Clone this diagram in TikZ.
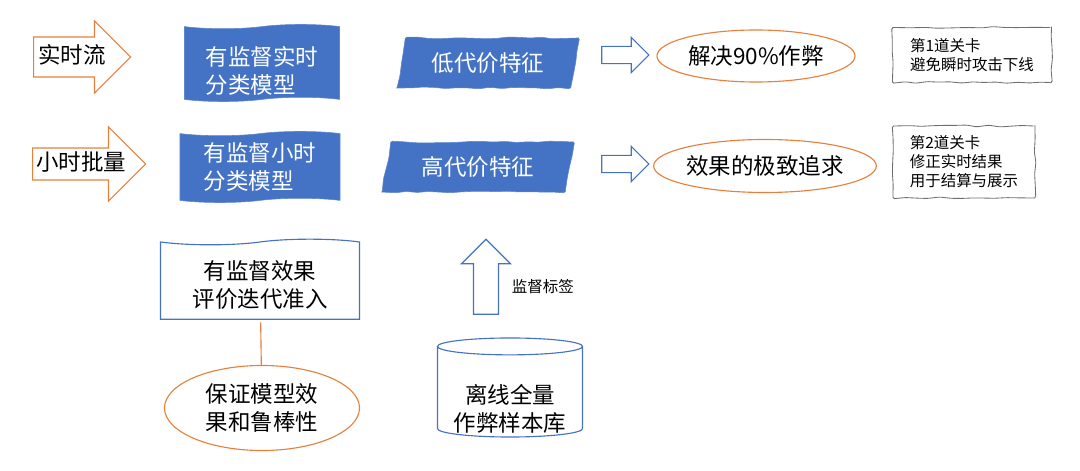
\documentclass[tikz,border=0pt]{standalone}
\usepackage{fontspec}
\setmainfont{Noto Sans CJK SC}
\usepackage{xcolor}
\usetikzlibrary{shapes.arrows,shapes.geometric,shapes.symbols,decorations.pathmorphing}
\definecolor{bleu}{RGB}{68,114,196}
\definecolor{orangeb}{RGB}{230,128,60}
\definecolor{gris}{RGB}{110,110,110}
\newcommand{\grand}{\fontsize{16}{20}\selectfont}
\newcommand{\petit}{\fontsize{11}{13.5}\selectfont}
% texte descendu dans son cadre
\newcommand{\abaisse}[3]{\raisebox{-#2}[\height][\depth]{\begin{tabular}{@{}#1@{}}#3\end{tabular}}}

\begin{document}
\begin{tikzpicture}[x=0.025cm, y=-0.025cm, font=\grand,
    croquis/.style={decorate, decoration={random steps, segment length=8pt, amplitude=0.7pt}, rounded corners=1pt},
    entree/.style={single arrow, draw=orangeb, line width=0.8pt, text height=11pt, text depth=2pt, inner xsep=-5pt, anchor=tail},
    creuse/.style={single arrow, draw=bleu, line width=0.8pt, inner sep=5.7pt, single arrow head extend=6.4pt, minimum height=1.175cm},
    modele/.style={tape, tape bend top=in and out, tape bend bottom=in and out, tape bend height=3pt, fill=bleu, draw=bleu!85!white, text=white, align=left, inner sep=0pt},
    cout/.style={trapezium, trapezium left angle=75, trapezium right angle=105, trapezium stretches=true, croquis, fill=bleu, draw=bleu!85!white, text=white, inner sep=0pt, minimum height=1.25cm},
    bulle/.style={ellipse, draw=orangeb, line width=0.8pt, inner sep=0pt, align=center},
    note/.style={croquis, draw=gris, line width=0.6pt, align=left, font=\petit, inner sep=0pt}]
                \useasboundingbox (0,0) rectangle (1080,471);

                % flux d'entrée
                \node[entree, minimum height=2.425cm, inner ysep=7.35pt, single arrow head extend=11.4pt] (flux) at (33,57) {实时流};
                \node[entree, minimum height=2.825cm, inner ysep=4.5pt, single arrow head extend=15pt] (lot) at (32,164) {小时批量};

                % modèles
                \node[modele, minimum width=3.875cm, minimum height=1.925cm] (reel) at (262,63) {\abaisse{l}{8pt}{有监督实时\\分类模型}};
                \node[modele, minimum width=4cm, minimum height=1.775cm] (horaire) at (260,167) {有监督小时\\分类模型};

                % caractéristiques
                \node[cout, minimum width=4.575cm] (bas) at (488,63) {低代价特征};
                \node[cout, minimum width=4.825cm] (haut) at (478,167) {高代价特征};

                % flèches creuses
                \node[creuse] (f1) at (621,55) {};
                \node[creuse] (f2) at (621,164) {};

                % objectifs
                \node[bulle, minimum width=4.95cm, minimum height=1.3cm] (triche) at (756,56) {解决90\%作弊};
                \node[bulle, minimum width=5.4cm, minimum height=1.325cm] (effet) at (765,166) {效果的极致追求};

                % barrières
                \node[note, minimum width=3.975cm, minimum height=1.375cm] (porte1) at (972,55) {第1道关卡\\避免瞬时攻击下线};
                \node[note, minimum width=3.55cm, minimum height=1.8cm] (porte2) at (964,162) {第2道关卡\\修正实时结果\\用于结算与展示};

                % évaluation
                \node[tape, tape bend top=in and out, tape bend bottom=none, tape bend height=4pt, draw=bleu, line width=0.8pt, minimum width=4.975cm, minimum height=2cm, inner sep=0pt] (eval) at (260,282) {\abaisse{c}{4pt}{有监督效果\\评价迭代准入}};
                \node[bulle, minimum width=4.875cm, minimum height=2.125cm] (robuste) at (262,408) {保证模型效\\果和鲁棒性};
                \draw[orangeb, line width=0.8pt] (eval) -- (robuste);

                % base d'échantillons
                \node[cylinder, shape border rotate=90, aspect=0.15, draw=bleu, line width=0.8pt, minimum width=3.625cm, minimum height=2.475cm, inner sep=0pt] (base) at (510,392) {\abaisse{c}{14pt}{离线全量\\作弊样本库}};
                \node[creuse, shape border rotate=90, inner sep=8.5pt, single arrow head extend=8.5pt, minimum height=1.875cm] (montee) at (486,283) {};
                \node[font=\petit, anchor=west] (etiquette) at (507,287) {监督标签};
\end{tikzpicture}
\end{document}
